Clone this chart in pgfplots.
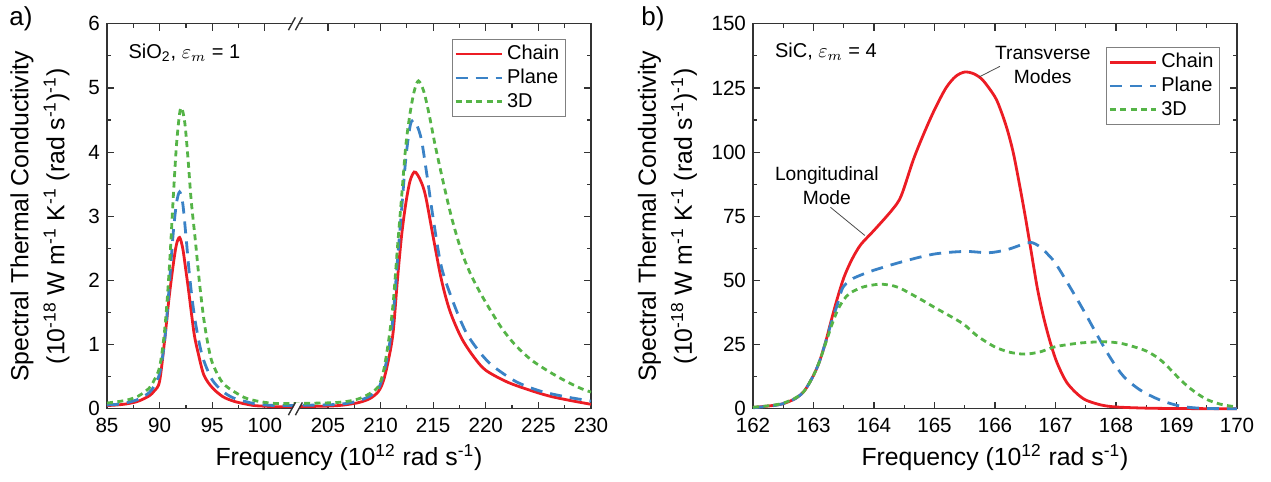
\documentclass[border=0pt]{standalone}
\usepackage{pgfplots}
\pgfplotsset{compat=1.18}
\usepackage{fontspec}
\setmainfont{Liberation Sans}
\setsansfont{Liberation Sans}

\definecolor{cred}{HTML}{EC1C24}
\definecolor{cblue}{HTML}{3A82C6}
\definecolor{cgreen}{HTML}{55B447}

\pgfplotsset{
  myax/.style={
    scale only axis, width=242pt, height=192.5pt,
    axis line style={black!80, line width=0.6pt},
    tick style={black!80, line width=0.6pt},
    major tick length=3.5pt, minor tick length=2pt,
    tick label style={font=\fontsize{10.3}{12}\selectfont},
    xticklabel style={yshift=-1.2pt},
    /pgf/number format/assume math mode=true,
    label style={font=\fontsize{12.4}{18}\selectfont},
    ylabel style={align=center, anchor=center},
    xlabel style={yshift=1pt},
    legend style={draw=black!50, line width=0.5pt,
      font=\fontsize{10}{11}\selectfont, inner sep=1pt, row sep=-0.8pt,
      nodes={inner sep=2pt}},
    legend cell align=left,
    legend image code/.code={\draw[##1] (-1pt,0pt) -- (22pt,0pt);},
    clip=false,
  },
  chain/.style={color=cred, line width=1.4pt, smooth},
  plane/.style={color=cblue, line width=1.4pt, dash pattern=on 6pt off 4pt, smooth},
  threed/.style={color=cgreen, line width=1.4pt, dash pattern=on 3pt off 2.2pt, smooth},
}

\begin{document}
\begin{tikzpicture}
\path (-53.5pt,-36.5pt) rectangle (582pt,202.5pt);

% ---------- panel a ----------
\begin{axis}[myax,
  name=A, at={(0pt,0pt)}, anchor=south west,
  xmin=85, xmax=131, ymin=0, ymax=6,
  x filter/.expression={x>150 ? x-99 : x},
  xtick={85,90,95,100,106,111,116,121,126,131},
  xticklabels={85,90,95,100,205,210,215,220,225,230},
  minor xtick={87.5,92.5,97.5,108.5,113.5,118.5,123.5,128.5},
  ytick={0,1,2,3,4,5,6},
  minor ytick={0.5,1.5,2.5,3.5,4.5,5.5},
  xlabel={Frequency (10\textsuperscript{12} rad s\textsuperscript{-1})},
  ylabel={Spectral Thermal Conductivity\\(10\textsuperscript{-18} W m\textsuperscript{-1} K\textsuperscript{-1} (rad s\textsuperscript{-1})\textsuperscript{-1})},
  ylabel style={at={(axis description cs:-0.1384,0.5)}},
  legend style={at={(0.948,0.961)}, anchor=north east},
]
\addplot[chain] coordinates {
(85,0.05) (86,0.06) (87,0.08) (88,0.12) (89,0.2) (89.5,0.28) (90,0.43)
(90.5,1.1) (90.9,1.73) (91.3,2.25) (91.6,2.56) (91.9,2.67) (92.2,2.5)
(92.46,2.2) (92.75,1.85) (93.04,1.47) (93.3,1.15) (93.62,0.9) (94.2,0.53)
(95,0.33) (96,0.19) (97,0.12) (98,0.08) (99,0.05) (100,0.04) (101.5,0.03)
(204.5,0.04) (206,0.05) (207,0.07) (208,0.1) (209,0.16) (209.8,0.27)
(210.3,0.45) (210.8,0.8) (211.2,1.2) (211.6,2.0) (212,2.7) (212.4,3.2)
(212.8,3.55) (213.2,3.69) (213.5,3.65) (213.9,3.52) (214.3,3.3) (215,2.68)
(215.8,2.0) (216.6,1.52) (217.7,1.1) (218.9,0.8) (220,0.6) (222,0.42)
(224,0.3) (226,0.2) (228,0.13) (230,0.07)};
\addlegendentry{Chain}
\addplot[plane] coordinates {
(85,0.06) (86,0.07) (87,0.1) (88,0.15) (89,0.25) (89.5,0.36) (90,0.55)
(90.4,0.95) (90.7,1.45) (91,2.1) (91.3,2.75) (91.6,3.2) (91.9,3.38)
(92.2,3.2) (92.5,2.7) (92.8,2.15) (93.1,1.7) (93.4,1.35) (93.8,1.0)
(94.2,0.75) (95,0.45) (96,0.27) (97,0.17) (98,0.12) (99,0.08) (100,0.06)
(101.5,0.05) (204.5,0.06) (206,0.07) (207,0.09) (208,0.13) (209,0.2)
(209.8,0.32) (210.3,0.55) (210.8,0.95) (211.2,1.45) (211.6,2.3) (212,3.1)
(212.4,3.9) (212.8,4.4) (213.1,4.5) (213.5,4.4) (213.9,4.18) (214.4,3.65)
(215,2.97) (215.8,2.2) (217,1.62) (218.1,1.2) (219.2,0.93) (220.5,0.69)
(222.8,0.43) (225.1,0.28) (227.5,0.19) (230,0.12)};
\addlegendentry{Plane}
\addplot[threed] coordinates {
(85,0.09) (86,0.11) (87,0.14) (88,0.2) (89,0.32) (89.5,0.45) (90,0.65)
(90.4,1.1) (90.7,1.65) (91,2.4) (91.3,3.3) (91.6,4.1) (91.9,4.6)
(92.1,4.69) (92.4,4.45) (92.7,3.9) (93,3.25) (93.4,2.62) (93.8,1.95)
(94.2,1.4) (94.6,1.0) (95,0.72) (95.8,0.45) (96.5,0.33) (98,0.18)
(99,0.13) (100,0.1) (101.5,0.08) (204.5,0.09) (206,0.1) (207,0.12)
(208,0.16) (209,0.24) (209.8,0.35) (210.3,0.6) (210.8,1.1) (211.2,1.65)
(211.6,2.5) (212,3.3) (212.4,4.1) (212.8,4.6) (213.2,4.95) (213.6,5.11)
(214.1,4.95) (214.6,4.6) (215.2,4.1) (216,3.5) (216.8,2.95) (217.7,2.45)
(218.5,2.12) (219.5,1.8) (220.5,1.52) (221.5,1.26) (222.5,1.05)
(223.5,0.88) (224.5,0.74) (226,0.58) (227.5,0.44) (229,0.32) (230,0.26)};
\addlegendentry{3D}
\node[anchor=west, font=\fontsize{10}{12}\selectfont] at (rel axis cs:0.03,0.925)
  {SiO\textsubscript{2}, $\varepsilon_m$ = 1};
% axis break marks
\fill[white] (axis cs:103,0) ++(-3.5pt,-3.2pt) -- ++(3.5pt,6.4pt) -- ++(3pt,0pt) -- ++(-3.5pt,-6.4pt) -- cycle;
\draw[black!80, line width=0.7pt] (axis cs:103,0) ++(-4pt,-3.2pt) -- ++(3.5pt,6.4pt);
\draw[black!80, line width=0.7pt] (axis cs:103,0) ++(-0.5pt,-3.2pt) -- ++(3.5pt,6.4pt);
\fill[white] (axis cs:103,6) ++(-3.5pt,-3.2pt) -- ++(3.5pt,6.4pt) -- ++(3pt,0pt) -- ++(-3.5pt,-6.4pt) -- cycle;
\draw[black!80, line width=0.7pt] (axis cs:103,6) ++(-4pt,-3.2pt) -- ++(3.5pt,6.4pt);
\draw[black!80, line width=0.7pt] (axis cs:103,6) ++(-0.5pt,-3.2pt) -- ++(3.5pt,6.4pt);
\end{axis}
\node[font=\fontsize{13}{15}\selectfont] at (-43pt,195pt) {a)};

% ---------- panel b ----------
\begin{axis}[myax,
  name=B, at={(323pt,0pt)}, anchor=south west,
  xmin=162, xmax=170, ymin=0, ymax=150,
  xtick={162,163,...,170},
  minor xtick={162.5,163.5,...,169.5},
  ytick={0,25,...,150},
  minor ytick={12.5,37.5,...,137.5},
  xlabel={Frequency (10\textsuperscript{12} rad s\textsuperscript{-1})},
  ylabel={Spectral Thermal Conductivity\\(10\textsuperscript{-18} W m\textsuperscript{-1} K\textsuperscript{-1} (rad s\textsuperscript{-1})\textsuperscript{-1})},
  ylabel style={at={(axis description cs:-0.1767,0.5)}},
  legend style={at={(0.965,0.94)}, anchor=north east},
]
\addplot[chain] coordinates {
(162,0.5) (162.3,1.2) (162.5,2) (162.7,4) (162.85,7) (163,13) (163.1,18.5)
(163.2,26) (163.3,35) (163.4,43.5) (163.5,51) (163.6,56.5) (163.7,61)
(163.8,64.5) (164,69.5) (164.3,77.5) (164.45,83) (164.65,97) (164.82,107)
(165,116.5) (165.19,125) (165.35,129.5) (165.5,131.2) (165.65,130.5)
(165.8,128) (166,121.5) (166.1,116) (166.2,109) (166.3,100)
(166.4,88) (166.5,75) (166.6,61) (166.7,47) (166.8,36) (166.9,27)
(167,19.5) (167.1,14) (167.2,9.8) (167.35,6) (167.5,3.4) (167.75,1.5)
(168,0.7) (168.5,0.25) (169,0.1) (170,0)};
\addlegendentry{Chain}
\addplot[plane] coordinates {
(162,0.4) (162.3,1.1) (162.5,2) (162.7,4) (162.85,7) (163,13) (163.1,18.5)
(163.2,26) (163.3,34) (163.4,41) (163.48,47) (163.6,50) (163.72,51.5)
(164,54) (164.5,57.5) (165,60.3) (165.5,61.3) (165.9,60.8) (166.2,62)
(166.45,64) (166.6,64.8) (166.75,63) (166.9,59.5) (167,56.7) (167.2,49)
(167.46,38.5) (167.73,27) (167.93,19) (168.13,12.5) (168.4,7.3)
(168.73,3.4) (169.07,1.0) (169.4,0.2) (169.7,0.05) (170,0)};
\addlegendentry{Plane}
\addplot[threed] coordinates {
(162,0.6) (162.3,1.3) (162.5,2.2) (162.7,4.2) (162.85,7) (163,13)
(163.1,18.5) (163.2,25.5) (163.3,32.5) (163.4,38.5) (163.5,42.5)
(163.6,45) (163.8,47.3) (164,48.3) (164.15,48.5) (164.4,47.3)
(164.79,42.4) (165,39.5) (165.46,33.3) (165.7,28.5) (165.99,24.2)
(166.25,22) (166.5,21.3) (166.75,22.2) (167,24.2) (167.4,25.6)
(167.8,26.1) (168.1,25.4) (168.46,22.9) (168.65,20.5) (168.8,17.7)
(169.07,11.2) (169.25,7.5) (169.47,4) (169.65,2.3) (169.8,1.4) (170,0.7)};
\addlegendentry{3D}
\node[anchor=west, font=\fontsize{10}{12}\selectfont] at (rel axis cs:0.031,0.928)
  {SiC, $\varepsilon_m$ = 4};
\node[align=center, font=\fontsize{9.6}{11.7}\selectfont] at (axis cs:166.79,134)
  {Transverse\\Modes};
\draw[black!70, line width=0.4pt] (axis cs:165.74,129.3) -- (axis cs:166.08,133.4);
\node[align=center, font=\fontsize{9.6}{11.7}\selectfont] at (axis cs:163.22,87)
  {Longitudinal\\Mode};
\draw[black!70, line width=0.4pt] (axis cs:163.28,78.5) -- (axis cs:163.85,67.5);
\end{axis}
\node[font=\fontsize{13}{15}\selectfont] at (273pt,195pt) {b)};
\end{tikzpicture}
\end{document}
